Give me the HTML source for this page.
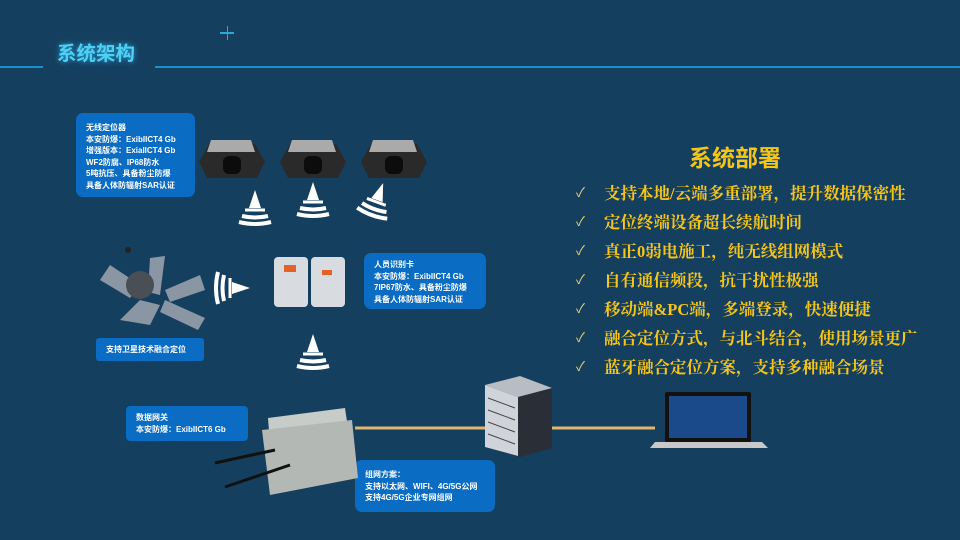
<!DOCTYPE html>
<html><head><meta charset="utf-8"><style>
*{margin:0;padding:0;box-sizing:border-box}
body{width:960px;height:540px;background:#153f5f;position:relative;overflow:hidden;font-family:"Liberation Sans","Noto Sans CJK SC",sans-serif}
.a{position:absolute}
.box{position:absolute;background:#0a6cc2;border-radius:7px;color:#fff;font-size:8px;font-weight:bold;line-height:11.5px;padding:6px 10px}
.yl{color:#f5c518;font-family:"Liberation Serif","Noto Serif CJK SC",serif;font-size:16.5px;font-weight:bold;position:absolute;left:604px}
.ck{color:#e8d27a;font-size:13px;position:absolute;left:576px}
</style></head><body>
<div class="a" style="left:0;top:66px;width:43px;height:2px;background:#1c8fcf"></div>
<div class="a" style="left:155px;top:66px;width:805px;height:2px;background:#1c8fcf"></div>
<div class="a" style="left:57px;top:37px;color:#4fd0f2;font-size:19.5px;font-weight:bold;text-shadow:0 0 6px #2aa8e0">系统架构</div>
<div class="a" style="left:220px;top:32px;width:14px;height:1.5px;background:#2aa8d8"></div>
<div class="a" style="left:226.5px;top:26px;width:1.5px;height:14px;background:#2aa8d8"></div>

<div class="box" style="left:76px;top:113px;width:119px;height:84px;padding-top:9px">无线定位器<br>本安防爆：ExibIICT4 Gb<br>增强版本：ExiaIICT4 Gb<br>WF2防腐、IP68防水<br>5吨抗压、具备粉尘防爆<br>具备人体防辐射SAR认证</div>
<div class="box" style="left:364px;top:253px;width:122px;height:56px;padding-top:6px">人员识别卡<br>本安防爆：ExibIICT4 Gb<br>7IP67防水、具备粉尘防爆<br>具备人体防辐射SAR认证</div>
<div class="box" style="left:96px;top:338px;width:108px;height:23px;border-radius:3px;line-height:13px;padding:5px 10px">支持卫星技术融合定位</div>
<div class="box" style="left:126px;top:406px;width:122px;height:35px;border-radius:4px;padding:6px 10px">数据网关<br>本安防爆：ExibIICT6 Gb</div>
<div class="box" style="left:355px;top:460px;width:140px;height:52px;padding:9px 10px">组网方案：<br>支持以太网、WIFI、4G/5G公网<br>支持4G/5G企业专网组网</div>

<svg class="a" style="left:0;top:0" width="960" height="540">
<defs><g id="loc"><polygon points="0,26 10,8 56,8 66,26 58,42 8,42" fill="#2a2a2a"/><polygon points="12,4 52,4 56,16 8,16" fill="#aaa"/><rect x="24" y="20" width="18" height="18" rx="6" fill="#0c0c0c"/></g>
<g id="sig"><path d="M-6,0 L0,-18 L6,0 Z" fill="#fff"/><path d="M-10,2 L10,2" stroke="#fff" stroke-width="3"/><path d="M-13,8 Q0,11 13,8" stroke="#fff" stroke-width="4" fill="none"/><path d="M-16,14 Q0,18 16,14" stroke="#fff" stroke-width="4" fill="none"/></g></defs>
<use href="#loc" x="199" y="136"/><use href="#loc" x="280" y="136"/><use href="#loc" x="361" y="136"/>
<use href="#sig" x="255" y="208"/><use href="#sig" x="313" y="200"/><use href="#sig" x="377" y="200" transform="rotate(20 377 200)"/>
<use href="#sig" x="232" y="288" transform="rotate(90 232 288)"/><use href="#sig" x="313" y="352"/>
<g fill="#8a96a4"><polygon points="110,265 140,285 130,298 100,280"/><polygon points="150,258 165,256 160,295 148,292"/><polygon points="165,290 200,275 205,290 170,302"/><polygon points="140,300 160,305 150,325 120,320"/><polygon points="165,300 205,318 198,330 160,312"/></g>
<circle cx="140" cy="285" r="14" fill="#4a4e55"/><circle cx="128" cy="250" r="3" fill="#222"/>
<rect x="274" y="257" width="34" height="50" rx="4" fill="#d8dce0"/><rect x="311" y="257" width="34" height="50" rx="4" fill="#d8dce0"/>
<rect x="284" y="265" width="12" height="7" fill="#e2622a"/><rect x="322" y="270" width="10" height="5" fill="#e2622a"/>
<line x1="355" y1="428" x2="655" y2="428" stroke="#e3b66a" stroke-width="3"/>
<polygon points="268,418 345,408 352,455 272,470" fill="#c8ccc8"/><polygon points="262,430 352,420 358,478 270,495" fill="#b4b8b4"/>
<line x1="215" y1="463" x2="275" y2="450" stroke="#111" stroke-width="3"/><line x1="225" y1="487" x2="290" y2="465" stroke="#111" stroke-width="3"/>
<polygon points="485,385 520,376 552,388 552,448 520,457 485,447" fill="#2a2e36"/>
<polygon points="485,385 520,376 552,388 518,397" fill="#b8bcc4"/>
<polygon points="485,385 518,397 518,456 485,447" fill="#d0d4da"/>
<g stroke="#444" stroke-width="1"><line x1="488" y1="398" x2="515" y2="408"/><line x1="488" y1="410" x2="515" y2="420"/><line x1="488" y1="422" x2="515" y2="432"/><line x1="488" y1="434" x2="515" y2="444"/></g>
<rect x="665" y="392" width="86" height="50" rx="2" fill="#111"/><rect x="669" y="396" width="78" height="42" fill="#1a4a8a"/>
<polygon points="655,442 762,442 768,448 650,448" fill="#c8c8c8"/>
</svg>

<div class="a" style="left:689px;top:139px;color:#f5c518;font-size:23px;font-weight:bold">系统部署</div>
<div class="ck" style="top:182px">✓</div><div class="yl" style="top:180px">支持本地/云端多重部署，提升数据保密性</div>
<div class="ck" style="top:211px">✓</div><div class="yl" style="top:209px">定位终端设备超长续航时间</div>
<div class="ck" style="top:240px">✓</div><div class="yl" style="top:238px">真正0弱电施工，纯无线组网模式</div>
<div class="ck" style="top:269px">✓</div><div class="yl" style="top:267px">自有通信频段，抗干扰性极强</div>
<div class="ck" style="top:298px">✓</div><div class="yl" style="top:296px">移动端&amp;PC端，多端登录，快速便捷</div>
<div class="ck" style="top:327px">✓</div><div class="yl" style="top:325px">融合定位方式，与北斗结合，使用场景更广</div>
<div class="ck" style="top:356px">✓</div><div class="yl" style="top:354px">蓝牙融合定位方案，支持多种融合场景</div>
</body></html>
